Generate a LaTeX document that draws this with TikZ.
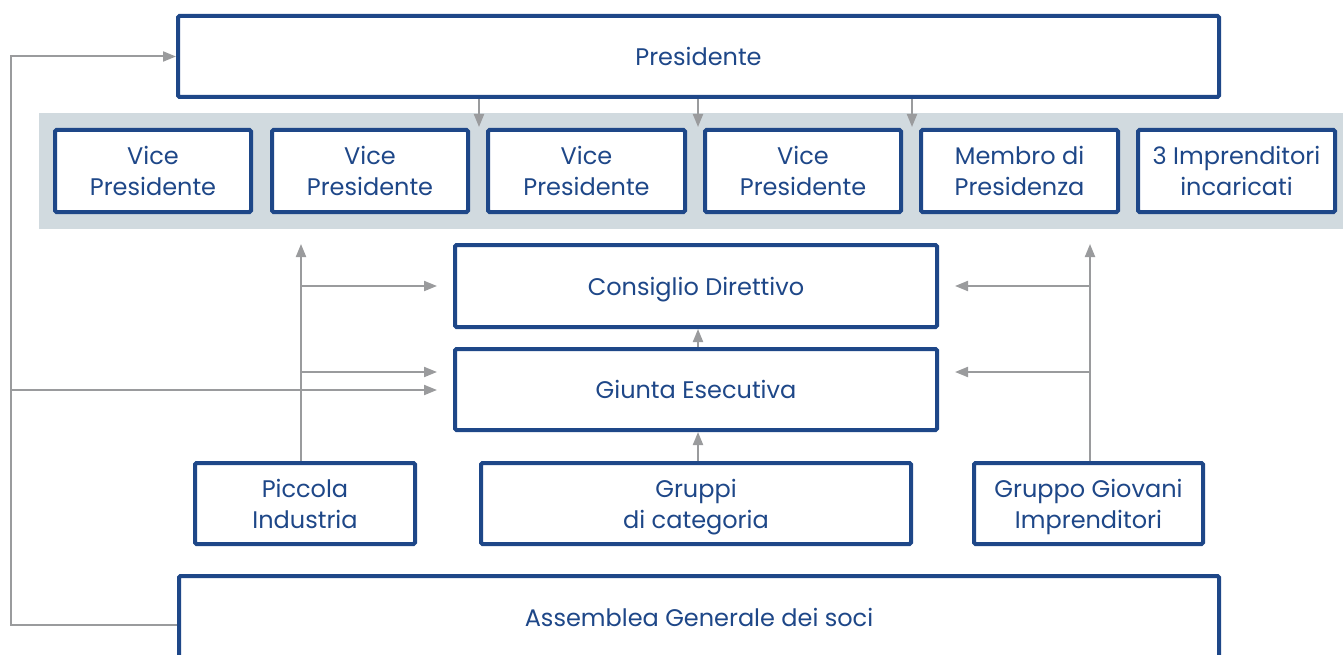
\documentclass[tikz,border=0pt]{standalone}
\usepackage{fontspec}
\setmainfont{Poppins}
\usetikzlibrary{arrows.meta,calc}
\definecolor{boxblue}{HTML}{1E4788}
\definecolor{bandgray}{HTML}{D1DADF}
\definecolor{linegray}{HTML}{9A9B9D}
\begin{document}
\begin{tikzpicture}[x=1pt,y=-1pt,
  box/.style={draw=boxblue, line width=4pt, fill=white, rounded corners=1.5pt, text=boxblue,
    align=center, font=\fontsize{24}{31}\selectfont, inner sep=0pt, text depth=0pt},
  arr/.style={draw=linegray, line width=2pt, -{Triangle[length=13pt,width=10pt]}},
  ln/.style={draw=linegray, line width=2pt}]
\useasboundingbox (0,0) rectangle (1343,655);
\clip (0,0) rectangle (1343,655);
% band
\fill[bandgray] (39,113) rectangle (1343,229);
% nodes
\node[box, minimum width=1041pt, minimum height=81pt] (pres) at (698.5,56.5) {Presidente};
\node[box, minimum width=196pt, minimum height=82pt] (v1) at (153,171) {Vice\\Presidente};
\node[box, minimum width=196pt, minimum height=82pt] (v2) at (370,171) {Vice\\Presidente};
\node[box, minimum width=197pt, minimum height=82pt] (v3) at (586.5,171) {Vice\\Presidente};
\node[box, minimum width=196pt, minimum height=82pt] (v4) at (803,171) {Vice\\Presidente};
\node[box, minimum width=197pt, minimum height=82pt] (v5) at (1019.5,171) {Membro di\\Presidenza};
\node[box, minimum width=197pt, minimum height=82pt] (v6) at (1236.5,171) {3 Imprenditori\\incaricati};
\node[box, minimum width=482pt, minimum height=82pt] (cons) at (696,286) {Consiglio Direttivo};
\node[box, minimum width=482pt, minimum height=81pt] (giunta) at (696,389.5) {Giunta Esecutiva};
\node[box, minimum width=220pt, minimum height=81pt] (pic) at (305,503.5) {Piccola\\Industria};
\node[box, minimum width=430pt, minimum height=81pt] (grp) at (696,503.5) {Gruppi\\di categoria};
\node[box, minimum width=229pt, minimum height=81pt] (gg) at (1088.5,503.5) {Gruppo Giovani\\Imprenditori};
\node[box, minimum width=1040pt, minimum height=82pt] (asm) at (699,617) {Assemblea Generale dei soci};
% coordinates
\coordinate (t1) at (479,127);
\coordinate (t2) at (698,127);
\coordinate (t3) at (912,127);
\coordinate (lx) at (11,0);
\coordinate (pl) at (301,0);
\coordinate (gl) at (1090,0);
% Presidente arrows
\draw[arr] (pres.south -| t1) -- (t1);
\draw[arr] (pres.south -| t2) -- (t2);
\draw[arr] (pres.south -| t3) -- (t3);
% left loop
\draw[arr] (asm.west |- 0,625) -- (lx |- 0,625) -- (lx |- pres.west) -- (pres.west);
\draw[arr, shorten >=16pt] (lx |- 0,390) -- (giunta.west |- 0,390);
% Piccola Industria
\draw[arr] (pic.north -| pl) -- (pl |- 0,244);
\draw[arr, shorten >=16pt] (pl |- cons.west) -- (cons.west);
\draw[arr, shorten >=16pt] (pl |- 0,372) -- (giunta.west |- 0,372);
% Gruppo Giovani
\draw[arr] (gg.north -| gl) -- (gl |- 0,244);
\draw[arr, shorten >=16pt] (gl |- cons.east) -- (cons.east);
\draw[arr, shorten >=16pt] (gl |- 0,372) -- (giunta.east |- 0,372);
% center
\draw[arr] (giunta.north -| t2) -- (cons.south -| t2);
\draw[arr] (grp.north -| t2) -- (giunta.south -| t2);
\end{tikzpicture}
\end{document}
